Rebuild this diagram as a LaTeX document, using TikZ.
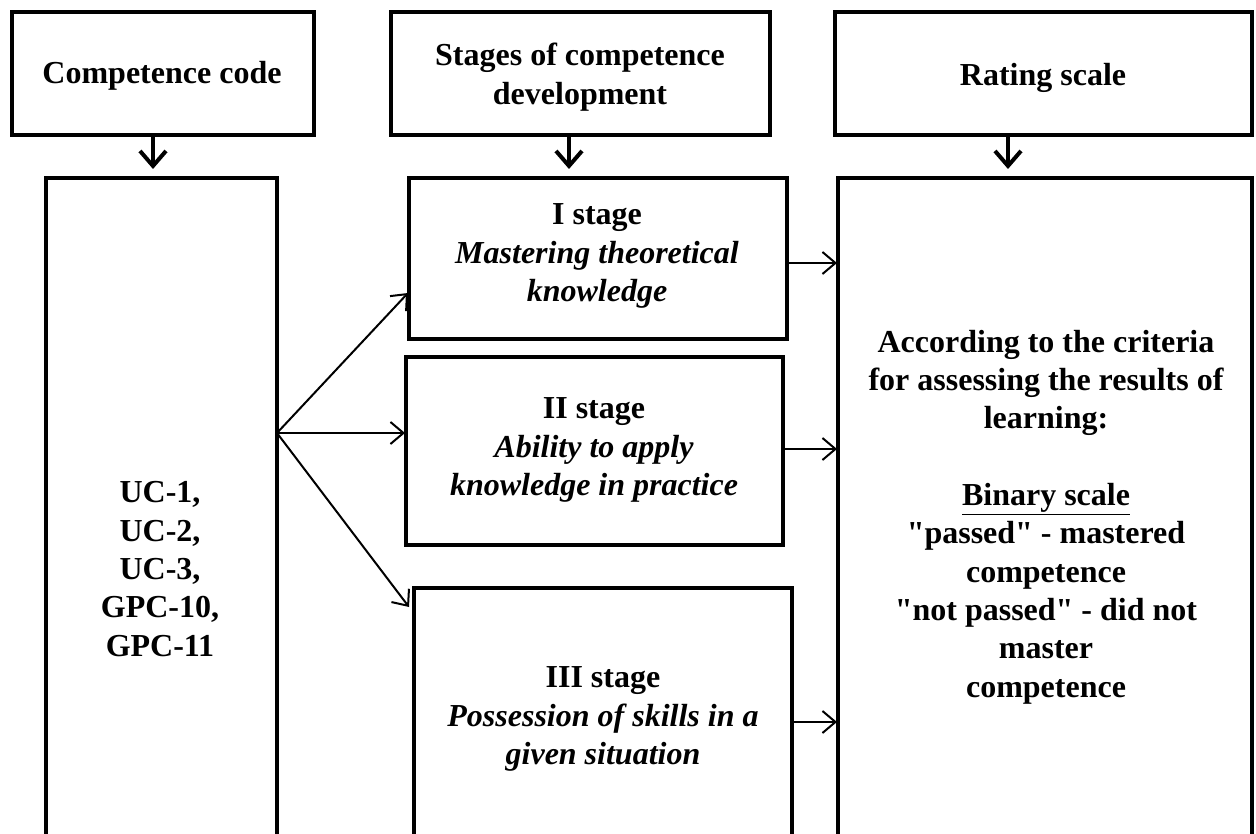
\documentclass[tikz,border=0pt]{standalone}
\usepackage{fontspec}
\setmainfont{Liberation Serif}[Ligatures=TeXOff]
\usetikzlibrary{arrows.meta}
\begin{document}
\begin{tikzpicture}[x=1pt,y=-1pt,
  box/.style={draw,line width=4pt,rectangle,inner sep=0pt},
  txt/.style={align=center,font=\fontsize{32}{38.3}\selectfont\bfseries,inner sep=0pt},
  downarr/.style={line width=4pt,-{Straight Barb[length=15pt,width=26pt,line width=4pt]}},
  thinarr/.style={line width=2pt,-{Straight Barb[length=13pt,width=22pt,line width=2pt]}}]
\useasboundingbox (0,0) rectangle (1256,834);
\clip (0,0) rectangle (1256,834);
\fill[white] (0,0) rectangle (1256,834);
% header boxes
\node[box,minimum width=302pt,minimum height=123pt] (codeh) at (162.5,73.5) {};
\node[box,minimum width=379pt,minimum height=123pt] (stageh) at (580.5,73.5) {};
\node[box,minimum width=417pt,minimum height=123pt] (rateh) at (1043.5,73.5) {};
\node[txt] (codeht) at (162,76) {Competence code};
\node[txt] (stageht) at (580,77) {Stages of competence\\development};
\node[txt] (rateht) at (1043,78) {Rating scale};
% lower boxes
\node[box,minimum width=231pt,minimum height=682pt] (codes) at (161.5,519) {};
\node[box,minimum width=378pt,minimum height=161pt] (s1) at (598,258.5) {};
\node[box,minimum width=377pt,minimum height=188pt] (s2) at (594.5,451) {};
\node[box,minimum width=378pt,minimum height=272pt] (s3) at (603,724) {};
\node[box,line width=3.5pt,minimum width=414pt,minimum height=682pt] (rate) at (1045,519) {};
% texts
\node[txt] (codest) at (160,569) {UC-1,\\UC-2,\\UC-3,\\GPC-10,\\GPC-11};
\node[txt] (s1t) at (597,256) {I stage\\\textit{Mastering theoretical}\\\textit{knowledge}};
\node[txt] (s2t) at (594,450) {II stage\\\textit{Ability to apply}\\\textit{knowledge in practice}};
\node[txt] (s3t) at (603,719) {III stage\\\textit{Possession of skills in a}\\\textit{given situation}};
\node[txt] (ratet) at (1046,517) {According to the criteria\\for assessing the results of\\learning:\\[38.3pt]\underline{Binary scale}\\"passed" - mastered\\competence\\"not passed" - did not\\master\\competence};
% down arrows
\coordinate (d1) at (153,169);
\coordinate (d2) at (569,169);
\coordinate (d3) at (1008,169);
\draw[downarr] (codeh.south -| d1) -- (d1);
\draw[downarr] (stageh.south -| d2) -- (d2);
\draw[downarr] (rateh.south -| d3) -- (d3);
% fan arrows
\coordinate (fan) at (277,433);
\coordinate (e1) at (408,293);
\coordinate (e2) at (405,433);
\coordinate (e3) at (409,607);
\draw[thinarr] (fan) -- (e1);
\draw[thinarr] (fan) -- (e2);
\draw[thinarr] (fan) -- (e3);
% right arrows
\coordinate (r1) at (837,263);
\coordinate (r2) at (837,449);
\coordinate (r3) at (837,722);
\draw[thinarr] (s1.east |- r1) -- (r1);
\draw[thinarr] (s2.east |- r2) -- (r2);
\draw[thinarr] (s3.east |- r3) -- (r3);
\end{tikzpicture}
\end{document}
